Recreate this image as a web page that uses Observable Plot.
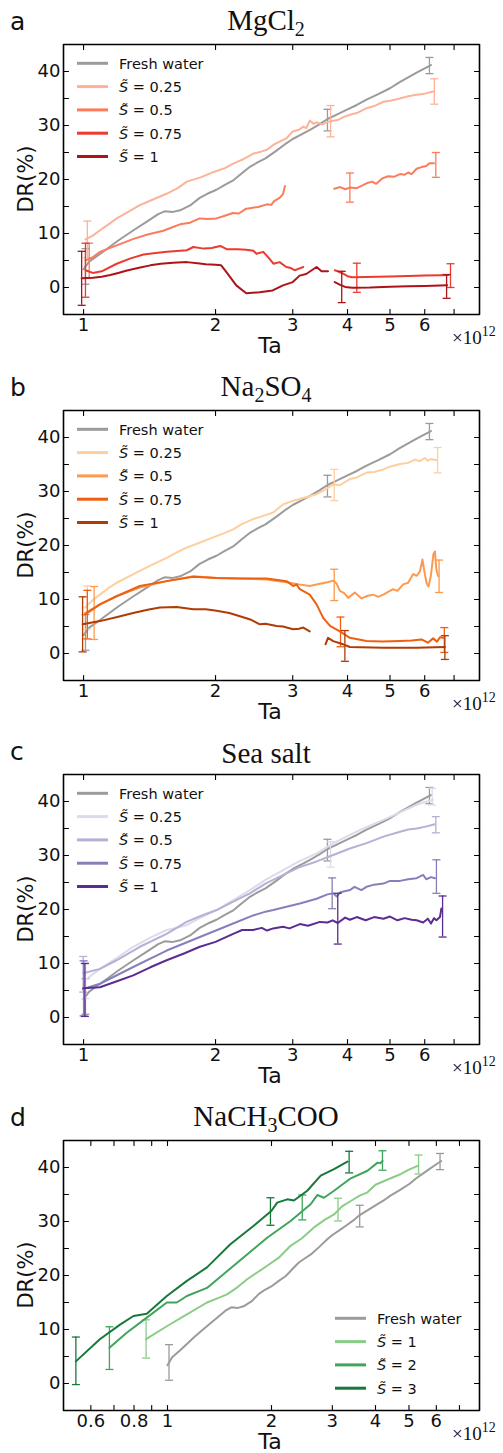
<!DOCTYPE html>
<html><head><meta charset="utf-8">
<script src="https://cdn.jsdelivr.net/npm/d3@7"></script>
<script src="https://cdn.jsdelivr.net/npm/@observablehq/plot@0.6"></script>
<style>
body{margin:0;background:#fff;}
#fig{position:relative;width:503px;height:1453px;background:#fff;overflow:hidden;}
.panel{position:absolute;left:0;width:503px;height:360px;}
</style></head><body><div id="fig"></div>
<script>
// ---- data (Ta in units of 10^12, DR in %) ----
const GAP = [null, null];
const freshWater = [[1.0,3.4],[1.03,4.8],[1.09,6.2],[1.15,7.6],[1.2,8.7],[1.3,10.6],[1.4,12.3],[1.48,13.6],[1.53,14.1],[1.6,14.0],[1.66,14.3],[1.75,15.2],[1.84,16.6],[1.92,17.4],[2.01,18.1],[2.1,19.0],[2.2,19.9],[2.3,21.2],[2.4,22.4],[2.5,23.2],[2.6,23.9],[2.75,25.3],[2.9,26.7],[3.0,27.5],[3.15,28.4],[3.3,29.3],[3.45,30.2],[3.6,31.2],[3.8,32.1],[4.0,33.0],[4.2,33.8],[4.42,34.8],[4.7,35.8],[5.0,36.9],[5.25,38.0],[5.5,38.9],[5.75,39.8],[6.0,40.6],[6.2,41.2]];
const freshWaterErr = [[1.01,3.9,3.3],[3.6,31.0,2.0],[6.15,41.1,1.5]];

// MgCl2
const mgS025 = [[1.01,8.9],[1.05,9.6],[1.09,10.6],[1.14,11.7],[1.19,12.8],[1.27,14.1],[1.34,15.2],[1.44,16.3],[1.55,17.4],[1.64,18.4],[1.72,19.6],[1.85,20.4],[1.98,21.4],[2.1,22.1],[2.2,23.0],[2.32,23.8],[2.44,24.8],[2.55,25.2],[2.62,25.5],[2.72,26.5],[2.8,27.0],[2.9,27.6],[3.0,28.9],[3.1,29.2],[3.17,29.8],[3.22,29.5],[3.28,30.9],[3.35,30.3],[3.4,30.6],[3.5,30.2],[3.65,30.8],[3.8,31.0],[3.9,31.5],[4.05,32.0],[4.2,32.3],[4.42,33.2],[4.6,33.6],[4.83,34.4],[5.0,34.6],[5.27,35.0],[5.5,35.4],[5.75,35.7],[6.0,35.9],[6.27,36.3]];
const mgS05 = [[1.01,5.0],[1.05,5.6],[1.09,6.6],[1.19,7.8],[1.3,9.0],[1.4,9.8],[1.52,10.5],[1.6,11.2],[1.66,11.7],[1.75,12.0],[1.84,12.8],[1.92,12.7],[2.01,12.8],[2.1,13.3],[2.19,13.8],[2.26,13.7],[2.35,14.6],[2.5,14.9],[2.62,15.4],[2.68,15.3],[2.72,16.0],[2.8,16.6],[2.85,17.3],[2.88,18.8],GAP,[3.73,18.3],[3.85,18.6],[3.95,18.2],[4.05,18.5],[4.2,18.4],[4.35,19.0],[4.42,19.3],[4.55,19.6],[4.65,19.2],[4.8,20.2],[4.95,20.6],[5.1,20.5],[5.27,21.0],[5.4,20.9],[5.5,21.3],[5.6,21.0],[5.75,22.0],[5.9,22.3],[6.05,22.5],[6.15,23.0],[6.3,23.0]];
const mgS075 = [[1.01,3.2],[1.05,2.7],[1.1,3.0],[1.19,4.4],[1.28,5.4],[1.37,6.1],[1.46,6.4],[1.55,6.6],[1.72,6.9],[1.78,7.5],[1.88,7.2],[1.96,7.3],[2.05,7.7],[2.12,7.1],[2.25,7.1],[2.35,7.0],[2.44,6.8],[2.48,6.25],[2.57,6.6],[2.65,5.4],[2.71,4.4],[2.8,4.7],[2.9,3.8],[2.97,3.6],[3.03,3.2],[3.1,3.5],[3.17,3.8],GAP,[3.74,3.2],[3.8,3.0],[3.9,2.6],[4.0,2.1],[4.1,1.9],[4.4,1.95],[5.0,2.05],[5.5,2.15],[6.0,2.2],[6.5,2.25],[6.8,2.3]];
const mgS1 = [[0.99,1.7],[1.05,1.8],[1.1,2.0],[1.15,2.3],[1.2,2.7],[1.25,3.1],[1.33,3.6],[1.42,4.1],[1.5,4.4],[1.6,4.6],[1.72,4.7],[1.82,4.5],[1.9,4.3],[2.0,4.2],[2.06,4.1],[2.12,2.8],[2.23,0.4],[2.35,-1.05],[2.52,-0.9],[2.7,-0.55],[2.85,0.4],[3.0,1.0],[3.11,2.2],[3.22,2.5],[3.4,3.8],[3.49,3.0],[3.61,3.0],GAP,[3.74,1.0],[3.85,0.5],[3.95,0.1],[4.1,-0.05],[4.5,0.0],[5.0,0.15],[5.5,0.25],[6.0,0.3],[6.5,0.35],[6.75,0.4]];
const mgErr025 = [[1.02,8.9,3.4],[3.66,30.8,2.9],[6.31,36.3,2.35]];
const mgErr05 = [[1.03,5.0,3.2],[4.05,18.5,2.7],[6.36,22.7,2.3]];
const mgErr075 = [[1.01,3.2,5.0],[4.2,1.8,2.7],[6.87,2.2,2.2]];
const mgErr1 = [[0.99,1.7,5.0],[3.88,0.1,2.9],[6.73,0.2,2.2]];

// Na2SO4
const naS025 = [[1.007,8.5],[1.04,9.6],[1.09,10.9],[1.14,12.1],[1.19,13.1],[1.27,14.3],[1.344,15.3],[1.44,16.5],[1.547,17.7],[1.63,18.7],[1.718,19.6],[1.85,20.6],[1.975,21.5],[2.08,22.2],[2.194,23.0],[2.3,24.0],[2.437,24.9],[2.55,25.4],[2.707,26.1],[2.85,27.6],[3.007,28.3],[3.2,28.9],[3.4,29.5],[3.55,30.3],[3.71,31.3],[3.85,31.2],[4.05,32.3],[4.2,32.6],[4.42,33.5],[4.6,33.6],[4.83,34.1],[5.0,34.6],[5.27,35.1],[5.5,35.3],[5.7,35.9],[5.85,35.6],[6.0,36.2],[6.1,35.7],[6.2,36.0],[6.38,35.8]];
const naS05 = [[1.007,7.5],[1.09,9.1],[1.189,10.6],[1.344,12.2],[1.547,13.4],[1.78,14.3],[2.011,14.0],[2.273,13.9],[2.615,13.7],[2.954,13.1],[3.1,12.8],[3.28,12.5],[3.46,12.9],[3.6,13.2],[3.71,13.5],[3.78,12.9],[3.842,11.6],[3.93,11.2],[4.015,10.3],[4.157,11.3],[4.305,10.2],[4.45,10.7],[4.577,10.9],[4.7,10.5],[4.83,10.9],[4.95,11.4],[5.085,11.9],[5.2,11.6],[5.358,12.8],[5.5,13.1],[5.647,14.7],[5.75,14.4],[5.85,15.2],[5.93,17.4],[5.98,15.5],[6.06,13.0],[6.12,12.4],[6.2,14.5],[6.28,18.4],[6.33,18.9],[6.38,15.5],[6.44,14.3]];
const naS075 = [[1.007,7.2],[1.09,9.1],[1.189,10.6],[1.344,12.5],[1.547,13.4],[1.78,14.2],[2.011,14.0],[2.273,13.9],[2.615,13.9],[2.904,13.4],[3.007,12.5],[3.06,12.8],[3.114,11.9],[3.28,10.9],[3.40,9.1],[3.52,6.6],[3.65,5.1],[3.842,4.1],[4.05,2.9],[4.42,2.3],[4.8,2.2],[5.27,2.3],[5.6,2.4],[5.9,2.6],[6.1,2.0],[6.27,2.8],[6.4,2.2],[6.5,3.0],[6.61,2.9]];
const naS1 = [[0.995,5.4],[1.09,6.0],[1.2,6.8],[1.298,7.5],[1.4,8.1],[1.493,8.5],[1.63,8.6],[1.78,8.2],[1.9,8.2],[2.011,7.9],[2.15,7.5],[2.273,6.9],[2.4,6.3],[2.524,5.4],[2.6,5.5],[2.755,5.1],[2.85,5.0],[3.007,4.5],[3.1,4.6],[3.17,4.8],[3.28,4.1],GAP,[3.564,1.7],[3.61,2.9],[3.71,2.3],[3.91,1.7],[4.05,1.2],[4.83,1.05],[5.75,1.05],[6.67,1.2]];
const naErr025 = [[1.02,8.5,4.0],[3.73,31.2,2.9],[6.42,35.8,2.35]];
const naErr05 = [[1.057,7.5,4.9],[3.73,12.7,2.9],[6.47,14.3,3.0]];
const naErr075 = [[1.02,7.2,4.5],[3.855,4.0,2.75],[6.65,2.5,2.3]];
const naErr1 = [[0.995,5.4,5.1],[3.945,1.4,2.85],[6.67,1.1,2.2]];

// Sea salt
const ssS025 = [[1.007,6.9],[1.09,9.0],[1.19,11.0],[1.298,13.1],[1.42,14.8],[1.547,16.2],[1.63,16.6],[1.718,17.1],[1.85,18.5],[2.011,19.9],[2.2,21.8],[2.395,23.6],[2.6,25.5],[2.853,27.3],[3.1,28.9],[3.4,30.4],[3.7,32.2],[4.05,33.8],[4.4,35.2],[4.83,36.6],[5.27,38.0],[5.75,39.4],[6.0,39.9],[6.27,40.3]];
const ssS05 = [[0.998,8.2],[1.09,9.0],[1.189,10.6],[1.344,13.1],[1.547,15.5],[1.718,17.7],[1.85,18.8],[2.011,19.9],[2.2,21.5],[2.395,23.0],[2.6,24.8],[2.853,26.4],[3.1,27.8],[3.4,28.9],[3.71,30.1],[4.05,31.3],[4.42,32.3],[4.83,33.5],[5.27,34.4],[5.5,34.8],[5.75,35.0],[6.0,35.3],[6.33,35.8]];
const ssS075 = [[0.998,5.3],[1.09,6.25],[1.298,9.35],[1.547,12.4],[1.842,14.9],[2.194,17.4],[2.437,18.9],[2.6,19.6],[2.707,19.9],[3.114,21.1],[3.4,22.0],[3.6,22.8],[3.71,23.0],[3.78,22.4],[3.85,23.2],[4.05,23.6],[4.15,24.2],[4.3,23.6],[4.42,24.2],[4.6,24.6],[4.83,24.8],[5.0,25.3],[5.27,25.3],[5.5,25.6],[5.75,25.8],[5.95,26.4],[6.05,25.6],[6.2,26.0],[6.33,25.8]];
const ssS1 = [[0.998,5.4],[1.09,5.6],[1.2,6.8],[1.298,7.8],[1.42,9.3],[1.547,10.6],[1.7,11.9],[1.842,13.1],[2.0,14.0],[2.194,15.5],[2.3,16.2],[2.437,16.2],[2.55,16.6],[2.62,16.1],[2.707,16.5],[2.85,16.8],[2.95,16.5],[3.114,17.3],[3.25,17.0],[3.46,17.7],[3.6,17.6],[3.7,18.0],[3.8,17.5],[3.95,18.5],[4.05,18.1],[4.2,18.6],[4.4,18.0],[4.6,18.6],[4.83,18.3],[5.0,18.7],[5.2,18.0],[5.4,18.4],[5.6,18.1],[5.75,18.0],[5.95,17.6],[6.1,18.3],[6.2,17.4],[6.3,18.4],[6.38,18.0],[6.5,18.6],[6.55,20.2]];
const ssErr025 = [[1.01,6.9,3.4],[3.66,30.2,2.35],[6.24,40.9,1.55]];
const ssErr05 = [[0.998,8.0,3.3],[6.36,35.7,1.5]];
const ssErr075 = [[1.0,5.4,5.1],[3.69,23.0,2.85],[6.38,26.1,3.1]];
const ssErr1 = [[1.007,5.1,4.9],[3.8,18.3,4.7],[6.59,18.7,3.8]];

// NaCH3COO
const acS1 = [[0.867,8.2],[0.9955,10.6],[1.138,12.8],[1.301,15.0],[1.4,15.8],[1.487,16.5],[1.6,17.9],[1.70,19.3],[1.943,21.8],[2.1,23.3],[2.271,25.5],[2.45,26.9],[2.654,28.9],[2.85,30.3],[3.034,31.3],[3.2,32.8],[3.392,33.8],[3.6,34.8],[3.792,35.4],[4.0,36.8],[4.239,37.5],[4.5,38.2],[4.739,38.8],[5.0,39.6],[5.297,40.3]];
const acS2 = [[0.679,6.6],[0.762,9.4],[0.871,12.2],[0.9955,15.0],[1.064,15.0],[1.138,16.2],[1.301,17.7],[1.487,20.8],[1.70,23.9],[1.943,27.0],[2.271,30.1],[2.596,33.2],[2.714,34.9],[2.838,34.4],[3.034,35.7],[3.392,38.0],[3.792,39.4],[4.055,40.9],[4.13,40.8],[4.193,41.2]];
const acS3 = [[0.543,4.1],[0.637,8.2],[0.729,10.9],[0.797,12.5],[0.871,12.9],[0.9955,16.2],[1.138,19.0],[1.301,21.5],[1.52,25.8],[1.777,29.2],[2.0,32.0],[2.077,33.5],[2.221,34.1],[2.322,33.9],[2.538,35.7],[2.776,38.5],[3.034,39.7],[3.318,41.1]];
const acErr1 = [[0.867,8.25,3.55],[3.116,32.2,2.1],[5.33,40.55,1.75]];
const acErr2 = [[0.679,6.55,3.95],[2.455,32.6,2.3],[4.19,41.3,1.8]];
const acErr3 = [[0.543,4.2,4.4],[1.986,31.85,2.55],[3.355,41.0,2.0]];

// ticks and labels
const yDomain = [-5, 45];
const yTicks = [0,5,10,15,20,25,30,35,40];
const yLabels = [0,10,20,30,40];
const xDomainMain = [0.9, 8];
const xDomainD = [0.5, 8];
const xTicksMain = [1,2,3,4,5,6,7];
const xLabelsMain = [1,2,3,4,5,6];
const xTicksD = [0.6,0.7,0.8,0.9,1,2,3,4,5,6,7];
const xLabelsD = [0.6,0.8,1,2,3,4,5,6];
const sSalt = [0.25, 0.5, 0.75, 1];
const sAcetate = [1, 2, 3];

const grayColor = "#9b9b9b";
const redColors = ["#fcb398","#fb7b5b","#ea3b2e","#ad1319"];
const orangeColors = ["#fdcf9f","#fd9a4f","#ee6010","#b13b04"];
const purpleColors = ["#dcdbec","#b3b1d5","#8580bc","#5b2c93"];
const greenColors = ["#8acd87","#3fa45c","#16793a"];

// ---- drawing ----
const fig = document.getElementById("fig");
const W = 503, H = 360, MT = 44, MB = 46, ML = 63, MR = 24;
const IW = W - ML - MR, IH = H - MT - MB, TK = 5;
const FRAME_COLOR = "black";
const capSymbol = {draw(ctx, size) { const w = Math.sqrt(size / Math.PI); ctx.moveTo(-w, 0); ctx.lineTo(w, 0); }};

function basePlot(cfg, marks) {
  const svg = Plot.plot({
    width: W, height: H, marginTop: MT, marginBottom: MB, marginLeft: ML, marginRight: MR,
    x: {type: "log", domain: cfg.xDomain, label: null, axis: null},
    y: {domain: yDomain, label: null, axis: null},
    style: {fontFamily: "DejaVu Sans", fontSize: "18px", background: "transparent", overflow: "visible"},
    marks
  });
  svg.style.position = "absolute";
  svg.style.left = "0px";
  svg.style.top = "0px";
  return svg;
}

function drawPanel(cfg) {
  const div = document.createElement("div");
  div.className = "panel";
  div.style.top = cfg.top + "px";
  fig.appendChild(div);

  const [x0, x1] = cfg.xDomain, [y0, y1] = yDomain;
  const dy = (y1 - y0) * TK / IH;
  const kx = Math.pow(x1 / x0, TK / IW);

  // box outline and inward tick segments, as grouped polylines derived from domain and tick arrays
  const box = [[x0, y0, "box"], [x1, y0, "box"], [x1, y1, "box"], [x0, y1, "box"], [x0, y0, "box"]];
  const tickSegs = [];
  cfg.xTicks.forEach((t, i) => {
    tickSegs.push([t, y0, "b" + i], [t, y0 + dy, "b" + i]);
    tickSegs.push([t, y1 - dy, "t" + i], [t, y1, "t" + i]);
  });
  yTicks.forEach((t, i) => {
    tickSegs.push([x0, t, "l" + i], [x0 * kx, t, "l" + i]);
    tickSegs.push([x1 / kx, t, "r" + i], [x1, t, "r" + i]);
  });

  const marks = [];
  for (const s of cfg.series) {
    marks.push(Plot.line(s.data, {x: d => d[0], y: d => d[1], stroke: s.color, strokeWidth: 2}));
    marks.push(Plot.ruleX(s.err, {x: d => d[0], y1: d => d[1] - d[2], y2: d => d[1] + d[2], stroke: s.color, strokeWidth: 1.3}));
    marks.push(Plot.dot(s.err, {x: d => d[0], y: d => d[1] - d[2], symbol: capSymbol, r: 4, fill: "none", stroke: s.color, strokeWidth: 1.3}));
    marks.push(Plot.dot(s.err, {x: d => d[0], y: d => d[1] + d[2], symbol: capSymbol, r: 4, fill: "none", stroke: s.color, strokeWidth: 1.3}));
  }
  marks.push(
    Plot.line(tickSegs, {x: d => d[0], y: d => d[1], z: d => d[2], stroke: FRAME_COLOR, strokeWidth: 1.1}),
    Plot.line(box, {x: d => d[0], y: d => d[1], z: d => d[2], stroke: FRAME_COLOR, strokeWidth: 1.6})
  );
  div.appendChild(basePlot(cfg, marks));

  // labels layer
  const axesSvg = basePlot(cfg, [
    Plot.text(cfg.xLabels, {x: d => d, text: d => String(d), frameAnchor: "bottom", lineAnchor: "top", dy: 4, fontSize: 18, fill: "#111"}),
    Plot.text(yLabels, {y: d => d, text: d => String(d), frameAnchor: "left", textAnchor: "end", dx: -3, fontSize: 18, fill: "#111"})
  ]);
  div.appendChild(axesSvg);

  // annotations
  const g = d3.select(axesSvg).append("g").attr("fill", "#111").attr("font-family", "DejaVu Sans").attr("text-anchor", "start");
  g.append("text").attr("x", 10).attr("y", 30).attr("font-size", 25).text(cfg.letter);
  const t = g.append("text").attr("x", 266).attr("y", cfg.titleY).attr("text-anchor", "middle")
    .attr("font-family", "Liberation Serif").attr("font-size", 29);
  cfg.title.forEach((part, i) => {
    const sp = t.append("tspan").text(part);
    if (i % 2 === 1) sp.attr("dy", 6).attr("font-size", 20);
    else if (i > 0) sp.attr("dy", -6);
  });
  g.append("text").attr("transform", "translate(32.5,179) rotate(-90)").attr("text-anchor", "middle").attr("font-size", 21).text("DR(%)");
  g.append("text").attr("x", 270).attr("y", 353).attr("text-anchor", "middle").attr("font-size", 22).text("Ta");
  const m = g.append("text").attr("x", 452).attr("y", 344).attr("text-anchor", "start").attr("font-family", "Liberation Serif").attr("font-size", 19);
  m.append("tspan").text("×10");
  m.append("tspan").attr("dy", -8).attr("font-size", 14).text("12");
  const lg = cfg.legend;
  lg.items.forEach((it, i) => {
    const y = lg.y0 + i * 23.3;
    g.append("line").attr("x1", lg.x0).attr("x2", lg.x0 + 31).attr("y1", y).attr("y2", y)
      .attr("stroke", it.color).attr("stroke-width", 3);
    const tx = g.append("text").attr("x", lg.x0 + 42).attr("y", y + 5.3).attr("text-anchor", "start").attr("font-size", 14.5);
    if (it.s == null) tx.text("Fresh water");
    else {
      tx.append("tspan").attr("font-style", "italic").text("S\u0303");
      tx.append("tspan").text(" = " + it.s);
    }
  });
}

function saltSeries(datas, errs, colors) {
  const out = [{data: freshWater, err: freshWaterErr, color: grayColor}];
  datas.forEach((d, i) => out.push({data: d, err: errs[i], color: colors[i]}));
  return out;
}
function legendItems(svals, colors) {
  return [{s: null, color: grayColor}, ...svals.map((v, i) => ({s: v, color: colors[i]}))];
}

drawPanel({top: 0, letter: "a", title: ["MgCl", "2"], titleY: 30,
  xDomain: xDomainMain, xTicks: xTicksMain, xLabels: xLabelsMain,
  series: saltSeries([mgS025, mgS05, mgS075, mgS1], [mgErr025, mgErr05, mgErr075, mgErr1], redColors),
  legend: {x0: 77, y0: 63.3, items: legendItems(sSalt, redColors)}});
drawPanel({top: 366, letter: "b", title: ["Na", "2", "SO", "4"], titleY: 30,
  xDomain: xDomainMain, xTicks: xTicksMain, xLabels: xLabelsMain,
  series: saltSeries([naS025, naS05, naS075, naS1], [naErr025, naErr05, naErr075, naErr1], orangeColors),
  legend: {x0: 77, y0: 63.3, items: legendItems(sSalt, orangeColors)}});
drawPanel({top: 730, letter: "c", title: ["Sea salt"], titleY: 32.5,
  xDomain: xDomainMain, xTicks: xTicksMain, xLabels: xLabelsMain,
  series: saltSeries([ssS025, ssS05, ssS075, ssS1], [ssErr025, ssErr05, ssErr075, ssErr1], purpleColors),
  legend: {x0: 77, y0: 63.3, items: legendItems(sSalt, purpleColors)}});
drawPanel({top: 1096, letter: "d", title: ["NaCH", "3", "COO"], titleY: 30,
  xDomain: xDomainD, xTicks: xTicksD, xLabels: xLabelsD,
  series: saltSeries([acS1, acS2, acS3], [acErr1, acErr2, acErr3], greenColors),
  legend: {x0: 335, y0: 222.3, items: legendItems(sAcetate, greenColors)}});
</script>
</body></html>
